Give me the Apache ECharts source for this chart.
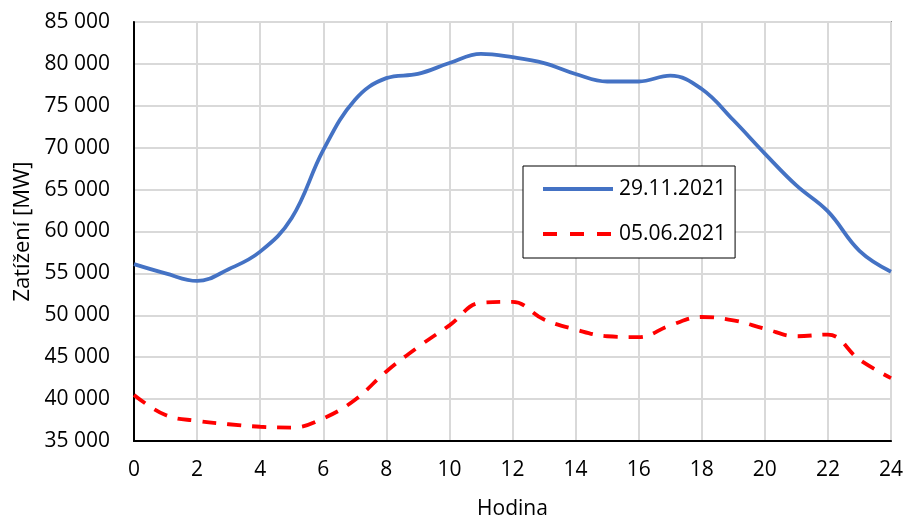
<!DOCTYPE html>
<html>
<head>
<meta charset="utf-8">
<script src="https://cdn.jsdelivr.net/npm/echarts@6/dist/echarts.min.js"></script>
<style>
  html, body { margin: 0; padding: 0; background: #ffffff; }
  #chart { width: 904px; height: 521px; }
</style>
</head>
<body>
<div id="chart"></div>
<script>
// Hourly load (MW) for two days
const hours = [0,1,2,3,4,5,6,7,8,9,10,11,12,13,14,15,16,17,18,19,20,21,22,23,24];
const loadWinter = [56100,55000,54100,55500,57600,61600,69700,75700,78300,78800,80100,81200,80800,80100,78800,77900,77900,78600,77000,73300,69300,65500,62400,57700,55200];
const loadSummer = [40500,38100,37400,37000,36700,36600,37700,39900,43300,46200,48800,51500,51600,49500,48300,47500,47400,48800,49800,49400,48400,47500,47700,44700,42500];
const seriesNames = ['29.11.2021', '05.06.2021'];

const FONT = '"Open Sans", "Noto Sans", sans-serif';

function pairs(ys) { return hours.map((h, i) => [h, ys[i]]); }

const chart = echarts.init(document.getElementById('chart'), null, { renderer: 'canvas' });
chart.setOption({
  animation: false,
  backgroundColor: '#ffffff',
  textStyle: { fontFamily: FONT },
  grid: {
    left: 134, right: 13, top: 22, bottom: 80,
    outerBoundsMode: 'none',
    show: true, borderColor: '#404040', borderWidth: 1.5, backgroundColor: 'transparent'
  },
  legend: {
    orient: 'vertical',
    left: 523, top: 166,
    padding: [12, 9, 13, 18],
    itemGap: 23,
    itemWidth: 70, itemHeight: 22,
    backgroundColor: '#ffffff',
    borderColor: '#000000', borderWidth: 1,
    itemStyle: { opacity: 0 },
    lineStyle: { width: 4 },
    textStyle: { fontFamily: FONT, fontSize: 21, lineHeight: 22, color: '#000000', padding: [0, 0, 0, 1] },
    data: [
      { name: seriesNames[0] },
      { name: seriesNames[1], lineStyle: { width: 4, type: [14, 13] } }
    ]
  },
  xAxis: {
    type: 'value', min: 0, max: 24, interval: 2,
    name: 'Hodina', nameLocation: 'middle', nameGap: 58,
    nameTextStyle: { fontFamily: FONT, fontSize: 21, color: '#000000' },
    axisLine: { show: true, lineStyle: { color: '#000000', width: 2 } },
    axisTick: { show: false },
    axisLabel: { fontFamily: FONT, fontSize: 21, color: '#000000', margin: 19 },
    splitLine: { show: true, lineStyle: { color: '#d9d9d9', width: 2 } }
  },
  yAxis: {
    type: 'value', min: 35000, max: 85000, interval: 5000,
    name: 'Zatížení [MW]', nameLocation: 'middle', nameGap: 98, nameRotate: 90,
    nameTextStyle: { fontFamily: FONT, fontSize: 22, color: '#000000' },
    axisLine: { show: true, lineStyle: { color: '#000000', width: 2 } },
    axisTick: { show: false },
    axisLabel: {
      fontFamily: FONT, fontSize: 21, color: '#000000', margin: 24,
      formatter: v => String(v).replace(/\B(?=(\d{3})+(?!\d))/g, ' ')
    },
    splitLine: { show: true, lineStyle: { color: '#d9d9d9', width: 2 } }
  },
  series: [
    {
      name: seriesNames[0], type: 'line', smooth: 0.4, symbol: 'none',
      data: pairs(loadWinter),
      lineStyle: { color: '#4472c4', width: 3.8 },
      itemStyle: { color: '#4472c4' }
    },
    {
      name: seriesNames[1], type: 'line', smooth: 0.4, symbol: 'none',
      data: pairs(loadSummer),
      lineStyle: { color: '#ff0000', width: 3.8, type: [14, 11] },
      itemStyle: { color: '#ff0000' }
    }
  ]
});
</script>
</body>
</html>
